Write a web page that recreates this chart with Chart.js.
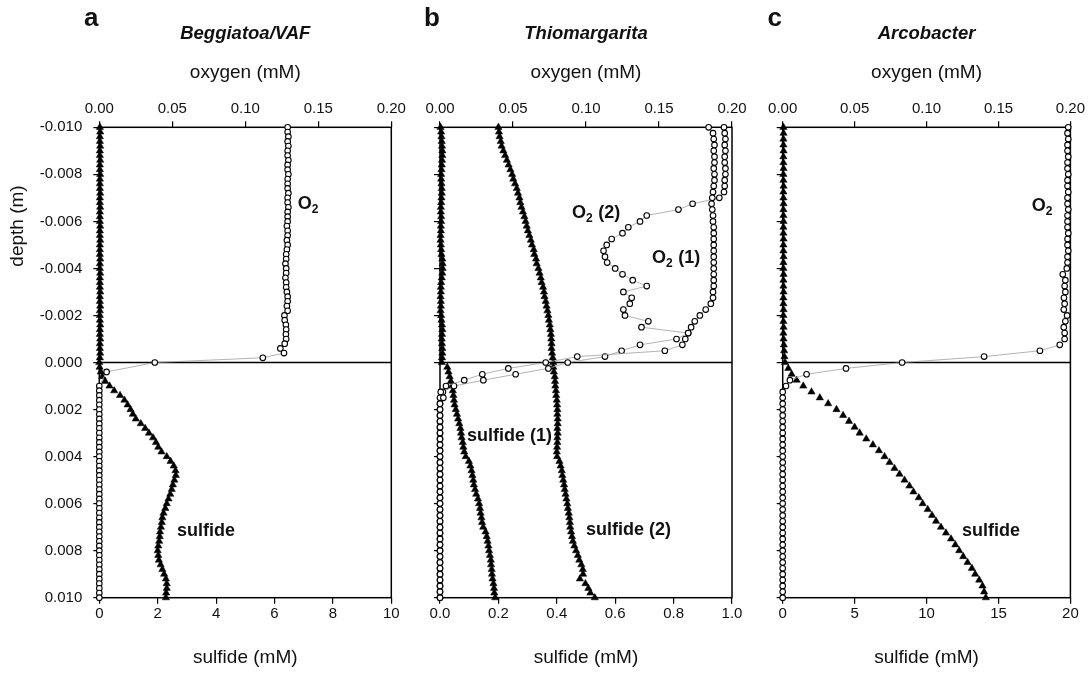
<!DOCTYPE html>
<html><head><meta charset="utf-8">
<script src="https://cdn.jsdelivr.net/npm/chart.js@4/dist/chart.umd.min.js"></script>
<style>
html,body{margin:0;padding:0;background:#fff;}
#wrap{position:relative;width:1088px;height:674px;overflow:hidden;background:#fff;}
canvas{position:absolute;left:0;top:0;}
</style></head><body>
<div id="wrap">
<canvas id="ca" width="1088" height="674"></canvas>
<canvas id="cb" width="1088" height="674"></canvas>
<canvas id="cc" width="1088" height="674"></canvas>
</div>
<script>
// ---------------- DATA ----------------
const depthTicks = [-0.010,-0.008,-0.006,-0.004,-0.002,0.000,0.002,0.004,0.006,0.008,0.010];
const oxygenTicks = [0.00,0.05,0.10,0.15,0.20];
const sulfideTicksA = [0,2,4,6,8,10];
const sulfideTicksB = [0.0,0.2,0.4,0.6,0.8,1.0];
const sulfideTicksC = [0,5,10,15,20];

// depth grid, 0.0002 m steps (m)
const depth02 = [
-0.0100,-0.0098,-0.0096,-0.0094,-0.0092,-0.0090,-0.0088,-0.0086,-0.0084,-0.0082,
-0.0080,-0.0078,-0.0076,-0.0074,-0.0072,-0.0070,-0.0068,-0.0066,-0.0064,-0.0062,
-0.0060,-0.0058,-0.0056,-0.0054,-0.0052,-0.0050,-0.0048,-0.0046,-0.0044,-0.0042,
-0.0040,-0.0038,-0.0036,-0.0034,-0.0032,-0.0030,-0.0028,-0.0026,-0.0024,-0.0022,
-0.0020,-0.0018,-0.0016,-0.0014,-0.0012,-0.0010,-0.0008,-0.0006,-0.0004,-0.0002,
0.0000,
0.0002,0.0004,0.0006,0.0008,0.0010,0.0012,0.0014,0.0016,0.0018,0.0020,
0.0022,0.0024,0.0026,0.0028,0.0030,0.0032,0.0034,0.0036,0.0038,0.0040,
0.0042,0.0044,0.0046,0.0048,0.0050,0.0052,0.0054,0.0056,0.0058,0.0060,
0.0062,0.0064,0.0066,0.0068,0.0070,0.0072,0.0074,0.0076,0.0078,0.0080,
0.0082,0.0084,0.0086,0.0088,0.0090,0.0092,0.0094,0.0096,0.0098,0.0100];

// depth grid, 0.00025 m steps (m)
const depth025 = [
-0.01000,-0.00975,-0.00950,-0.00925,-0.00900,-0.00875,-0.00850,-0.00825,-0.00800,-0.00775,
-0.00750,-0.00725,-0.00700,-0.00675,-0.00650,-0.00625,-0.00600,-0.00575,-0.00550,-0.00525,
-0.00500,-0.00475,-0.00450,-0.00425,-0.00400,-0.00375,-0.00350,-0.00325,-0.00300,-0.00275,
-0.00250,-0.00225,-0.00200,-0.00175,-0.00150,-0.00125,-0.00100,-0.00075,-0.00050,-0.00025,
0.00000,
0.00025,0.00050,0.00075,0.00100,0.00125,0.00150,0.00175,0.00200,0.00225,0.00250,
0.00275,0.00300,0.00325,0.00350,0.00375,0.00400,0.00425,0.00450,0.00475,0.00500,
0.00525,0.00550,0.00575,0.00600,0.00625,0.00650,0.00675,0.00700,0.00725,0.00750,
0.00775,0.00800,0.00825,0.00850,0.00875,0.00900,0.00925,0.00950,0.00975,0.01000];

// Panel a (Beggiatoa/VAF) on depth02
const aOxygen = [
0.129,0.129,0.1295,0.129,0.1295,0.129,0.129,0.1295,0.129,0.129,
0.1295,0.129,0.129,0.129,0.1295,0.129,0.129,0.1295,0.129,0.129,
0.129,0.1285,0.129,0.129,0.1285,0.129,0.1285,
0.128,0.128,0.1275,0.128,0.128,0.1275,0.128,0.128,0.1285,
0.129,0.129,0.1285,0.129,
0.1268,0.127,
0.1278,0.128,0.1278,0.128,
0.127,0.124,0.1265,0.112,0.038,null,0.005,null,null,
0,0,0,0,0,0,0,0,0,0,0,0,0,0,0,0,0,0,0,0,0,0,0,
0,0,0,0,0,0,0,0,0,0,0,0,0,0,0,0,0,0,0,0,0,0,0];
const aSulfide = [
0.02,0.03,0.02,0.02,0.03,0.02,0.02,0.03,0.02,0.02,
0.03,0.02,0.02,0.02,0.03,0.02,0.02,0.03,0.02,0.02,
0.02,0.03,0.02,0.02,0.03,0.02,0.02,0.02,0.03,0.02,
0.02,0.03,0.02,0.02,0.02,0.03,0.02,0.02,0.03,0.02,
0.02,0.02,0.03,0.02,0.02,0.03,0.02,0.02,0.03,0.02,
0.0,0.01,0.05,0.1,0.2,0.35,0.51,0.71,0.86,0.97,
1.07,1.15,1.25,1.42,1.57,1.7,1.84,1.94,2.02,2.13,
2.31,2.44,2.55,2.61,2.62,2.57,2.52,2.48,2.43,2.37,
2.31,2.26,2.2,2.16,2.14,2.11,2.08,2.07,2.05,2.02,
2.0,2.02,2.04,2.1,2.16,2.22,2.28,2.31,2.31,2.29,
2.28];

// Panel b (Thiomargarita): oxygen on depth025, sulfide on depth02
const bOxygen1 = [
0.184,
0.187,0.1875,0.188,0.1875,0.188,0.188,0.1875,0.188,0.188,0.1875,
0.187,0.1865,0.186,0.1865,0.187,0.187,0.1875,0.1875,0.1875,0.1875,
0.1875,0.1875,0.1875,0.1875,0.1875,0.1875,0.1875,0.187,
0.187,0.1855,0.182,0.178,0.1745,0.172,0.17,0.168,0.166,0.154,
0.094,0.0724,0.0468,0.029,0.0166,0.0041,0.0005,0.0023,
0,0,0,0,0,0,0,0,0,0,0,0,0,0,0,0,0,
0,0,0,0,0,0,0,0,0,0,0,0,0,0,0,0,0];
const bOxygen2 = [
0.1945,0.195,0.1955,0.195,0.1955,0.195,0.195,0.1955,0.1955,0.195,0.195,0.1945,
0.1913,0.173,0.1633,0.1416,0.137,0.129,0.125,0.1176,0.1142,0.112,
0.113,0.1145,0.12,0.125,0.132,0.1416,0.1256,0.1313,0.130,0.1256,
0.1267,0.1427,0.138,0.170,0.162,0.137,0.1244,0.113,0.0875,0.0742,
0.0518,0.0297,0.0096,0.002,0,
0,0,0,0,0,0,0,0,0,0,0,0,0,0,0,0,0,
0,0,0,0,0,0,0,0,0,0,0,0,0,0,0,0,0];
const bSulfide1 = [
0.002,0.004,0.005,0.006,0.007,0.008,0.008,0.007,0.006,0.005,
0.004,0.004,0.005,0.006,0.006,0.005,0.004,0.003,0.003,0.004,
0.004,0.003,0.003,0.002,0.002,0.003,0.004,0.005,0.008,0.009,
0.009,0.008,0.006,0.004,0.003,0.003,0.002,0.003,0.003,0.002,
0.004,0.005,0.007,0.008,0.007,0.006,0.007,0.008,0.008,0.007,
0.006,0.025,0.029,0.033,0.037,0.041,0.044,0.046,0.048,0.05,
0.054,0.058,0.062,0.066,0.07,0.072,0.074,0.078,0.08,0.083,
0.088,0.099,0.104,0.108,0.111,0.114,0.116,0.12,0.124,0.13,
0.134,0.137,0.139,0.142,0.144,0.148,0.156,0.16,0.163,0.166,
0.168,0.171,0.174,0.175,0.177,0.178,0.18,0.183,0.185,0.186,
0.189];
const bSulfide2 = [
0.200,0.202,0.204,0.208,0.211,0.217,0.223,0.229,0.235,0.241,
0.247,0.251,0.257,0.263,0.267,0.272,0.275,0.279,0.284,0.289,
0.293,0.297,0.301,0.306,0.311,0.315,0.321,0.323,0.329,0.331,
0.337,0.341,0.345,0.348,0.353,0.356,0.358,0.362,0.365,0.368,
0.371,0.373,0.376,0.378,0.380,0.381,0.382,0.382,0.384,0.386,
0.388,
0.388,0.390,0.393,0.394,0.395,0.397,0.398,0.400,0.401,0.402,
0.402,0.403,0.403,0.402,0.403,0.402,0.402,0.401,0.400,0.401,
0.409,0.413,0.417,0.419,0.422,0.425,0.427,0.430,0.433,0.436,
0.438,0.441,0.443,0.445,0.446,0.449,0.452,0.455,0.460,0.466,
0.472,0.477,0.484,0.489,0.490,0.479,0.498,0.508,0.515,0.530];

// Panel c (Arcobacter) on depth025
const cOxygen = [
0.1985,0.198,0.1985,0.198,0.198,0.1985,0.198,0.198,0.1985,0.198,
0.198,0.1985,0.198,0.198,0.1985,0.198,0.198,0.198,0.1985,0.198,
0.198,0.1985,0.198,0.198,
0.1975,0.1947,0.1965,0.196,0.1965,0.1955,0.196,0.1954,0.1977,0.1965,
0.1954,0.196,0.196,0.1926,0.1788,0.140,0.083,0.044,0.0166,0.005,
0.0023,
0,0,0,0,0,0,0,0,0,0,0,0,0,0,0,0,0,0,
0,0,0,0,0,0,0,0,0,0,0,0,0,0,0,0,0,0];
const cSulfide = [
0.05,0.06,0.05,0.05,0.06,0.05,0.05,0.06,0.05,0.05,
0.06,0.05,0.05,0.06,0.05,0.05,0.06,0.05,0.05,0.06,
0.05,0.05,0.06,0.05,0.05,0.06,0.05,0.05,0.06,0.05,
0.05,0.06,0.05,0.05,0.06,0.05,0.06,0.08,0.1,0.12,
0.16,0.39,0.62,0.97,1.43,2.0,2.58,3.16,3.74,4.2,
4.61,5.0,5.35,5.81,6.27,6.69,7.08,7.43,7.77,8.12,
8.47,8.81,9.09,9.46,9.73,10.08,10.38,10.66,11.0,11.35,
11.7,12.0,12.27,12.55,12.85,13.15,13.38,13.66,13.89,14.0,
14.12];

// ---------------- LAYOUT / STYLE ----------------
const W = 1088, H = 674;
const TOP = 127.3, BOTTOM = 597.7;
const YW = 60, HT = 30, HB = 30;
const FONT = "'Liberation Sans', Arial, Helvetica, sans-serif";
Chart.defaults.font.family = FONT;
Chart.defaults.color = '#111';

const PANELS = [
  {canvas:'ca', left:99.3, right:391.3, letter:'a', title:'Beggiatoa/VAF', showY:true,
   sulfMax:10, sulfTicks:sulfideTicksA, sulfDec:0,
   oxDepth:depth02, oxygen:[aOxygen], sulDepth:depth02, sulfide:[aSulfide],
   notes:[{parts:[['O',18],['2',12,true]], ox:0.136, d:-0.0068},
          {parts:[['sulfide',18]], ox:0.0532, d:0.0071}]},
  {canvas:'cb', left:440, right:732, letter:'b', title:'Thiomargarita', showY:false,
   sulfMax:1, sulfTicks:sulfideTicksB, sulfDec:1,
   oxDepth:depth025, oxygen:[bOxygen1,bOxygen2], sulDepth:depth02, sulfide:[bSulfide1,bSulfide2],
   notes:[{parts:[['O',18],['2',12,true],[' (2)',18]], ox:0.0904, d:-0.0064},
          {parts:[['O',18],['2',12,true],[' (1)',18]], ox:0.1452, d:-0.00452},
          {parts:[['sulfide (1)',18]], ox:0.0185, d:0.00308},
          {parts:[['sulfide (2)',18]], ox:0.100, d:0.00707}]},
  {canvas:'cc', left:782.7, right:1071.7, letter:'c', title:'Arcobacter', showY:false,
   sulfMax:20, sulfTicks:sulfideTicksC, sulfDec:0,
   oxDepth:depth025, oxygen:[cOxygen], sulDepth:depth025, sulfide:[cSulfide],
   notes:[{parts:[['O',18],['2',12,true]], ox:0.1732, d:-0.0067},
          {parts:[['sulfide',18]], ox:0.1247, d:0.0071}]}
];

function pts(depths, vals){
  const out = [];
  vals.forEach((v,i)=>{ if (v !== null) out.push({x:v, y:depths[i]}); });
  return out;
}
function fmtDepth(v){
  if (Math.abs(v) < 1e-9) return '0.000';
  return v.toFixed(3);
}

function deco(p){
  return {
    id:'deco_'+p.canvas,
    beforeDatasetsDraw(chart){
      const {ctx, chartArea:a, scales} = chart;
      ctx.save();
      ctx.strokeStyle = '#000';
      ctx.lineWidth = 1.5;
      ctx.strokeRect(a.left, a.top, a.right-a.left, a.bottom-a.top);
      const y0 = scales.y.getPixelForValue(0);
      ctx.beginPath(); ctx.moveTo(a.left, y0); ctx.lineTo(a.right, y0); ctx.stroke();
      ctx.restore();
    },
    afterDraw(chart){
      const {ctx, chartArea:a, scales} = chart;
      const cx = (a.left + a.right)/2;
      ctx.save();
      ctx.fillStyle = '#111';
      ctx.textAlign = 'center';
      ctx.textBaseline = 'alphabetic';
      ctx.font = `bold 26px ${FONT}`;
      ctx.fillText(p.letter, a.left - 8, 26);
      ctx.font = `italic bold 18.5px ${FONT}`;
      ctx.fillText(p.title, cx, 39);
      ctx.textBaseline = 'middle';
      ctx.font = `19px ${FONT}`;
      ctx.fillText('oxygen (mM)', cx, 73);
      ctx.fillText('sulfide (mM)', cx, 658);
      if (p.showY){
        ctx.save();
        ctx.translate(18, 226);
        ctx.rotate(-Math.PI/2);
        ctx.fillText('depth (m)', 0, 0);
        ctx.restore();
      }
      // in-plot labels
      ctx.textAlign = 'left';
      ctx.textBaseline = 'alphabetic';
      p.notes.forEach(n=>{
        let x = scales.x2.getPixelForValue(n.ox);
        const yb = scales.y.getPixelForValue(n.d) + 6.5;
        n.parts.forEach(([t, size, sub])=>{
          ctx.font = `bold ${size}px ${FONT}`;
          ctx.fillText(t, x, sub ? yb + 4 : yb);
          x += ctx.measureText(t).width + (sub ? 0.5 : 0);
        });
      });
      ctx.restore();
    }
  };
}

function gridOpts(){
  return {display:true, drawOnChartArea:false, drawTicks:true, tickLength:6, color:'#000', lineWidth:1.2};
}

PANELS.forEach(p=>{
  const datasets = [];
  p.oxygen.forEach(v=>datasets.push({
    data: pts(p.oxDepth, v), xAxisID:'x2', yAxisID:'y', showLine:true,
    borderColor:'#a0a0a0', borderWidth:0.8, pointStyle:'circle', pointRadius:2.8,
    pointBackgroundColor:'#fff', pointBorderColor:'#000', pointBorderWidth:1.1,
    clip:false, order:0
  }));
  p.sulfide.forEach(v=>datasets.push({
    data: pts(p.sulDepth, v), xAxisID:'x', yAxisID:'y', showLine:false,
    pointStyle:'triangle', pointRadius:4.2, pointBackgroundColor:'#000',
    pointBorderColor:'#000', pointBorderWidth:0.5, clip:false, order:1
  }));
  new Chart(document.getElementById(p.canvas), {
    type:'scatter',
    data:{datasets},
    options:{
      responsive:false, animation:false, events:[],
      layout:{padding:{left:p.left-YW, right:W-p.right, top:TOP-HT, bottom:H-BOTTOM-HB}},
      plugins:{legend:{display:false}, tooltip:{enabled:false}},
      scales:{
        x:{type:'linear', axis:'x', position:'bottom', min:0, max:p.sulfMax,
           afterBuildTicks:s=>{ s.ticks = p.sulfTicks.map(v=>({value:v})); },
           afterFit:s=>{ s.height = HB; },
           ticks:{callback:v=>Number(v).toFixed(p.sulfDec), font:{size:15}, padding:1,
                  maxRotation:0, autoSkip:false, color:'#111'},
           grid:gridOpts(), border:{display:false}},
        x2:{type:'linear', axis:'x', position:'top', min:0, max:0.2,
           afterBuildTicks:s=>{ s.ticks = oxygenTicks.map(v=>({value:v})); },
           afterFit:s=>{ s.height = HT; },
           ticks:{callback:v=>Number(v).toFixed(2), font:{size:15}, padding:3,
                  maxRotation:0, autoSkip:false, color:'#111'},
           grid:gridOpts(), border:{display:false}},
        y:{type:'linear', position:'left', reverse:true, min:-0.01, max:0.01,
           afterBuildTicks:s=>{ s.ticks = depthTicks.map(v=>({value:v})); },
           afterFit:s=>{ s.width = YW; },
           ticks:{callback:v=>p.showY ? fmtDepth(v) : '', font:{size:15}, padding:11,
                  autoSkip:false, color:'#111'},
           grid:gridOpts(), border:{display:false}}
      }
    },
    plugins:[deco(p)]
  });
});
</script>
</body></html>
